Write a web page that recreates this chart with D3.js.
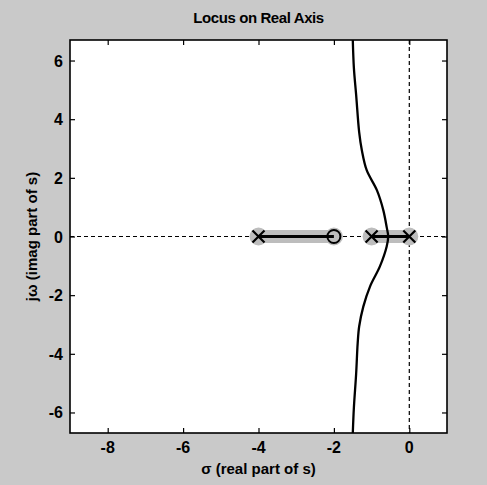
<!DOCTYPE html>
<html><head><meta charset="utf-8">
<script src="https://cdn.jsdelivr.net/npm/d3@7"></script>
<style>
html,body{margin:0;padding:0;background:#c9c9c9;}
svg{display:block;}
text{font-family:"Liberation Sans",Arial,sans-serif;font-weight:bold;fill:#000;}
</style></head>
<body>
<script>
// ---- data ----
const title = "Locus on Real Axis";
const xLabel = "\u03c3 (real part of s)";
const yLabel = "j\u03c9 (imag part of s)";
const xTicks = [-8, -6, -4, -2, 0];
const yTicks = [-6, -4, -2, 0, 2, 4, 6];
const poles = [0, -1, -4];
const zeros = [-2];
// real-axis locus segments [from, to]
const realSegments = [[-4, -2], [-1, 0]];
// complex branch (sigma, omega), top to bottom
const branchSigma = [-1.50, -1.47, -1.41, -1.33, -1.26, -1.13, -0.86, -0.69, -0.60, -0.56, -0.60, -0.78, -1.04, -1.22, -1.33, -1.37, -1.41, -1.47, -1.50];
const branchOmega = [6.75, 5.75, 4.83, 3.56, 2.95, 2.26, 1.58, 0.90, 0.32, 0.00, -0.34, -1.02, -1.70, -2.39, -3.07, -3.65, -4.68, -5.84, -6.75];

// ---- layout ----
const W = 487, H = 485;
const L = 70, R = 447, T = 40, B = 433;
const svg = d3.select("body").append("svg").attr("width", W).attr("height", H);
svg.append("rect").attr("width", W).attr("height", H).attr("fill", "#c9c9c9");

const x = d3.scaleLinear().domain([-9, 1]).range([L, R]);
const y = d3.scaleLinear().domain([-6.7, 6.7]).range([B, T]);

svg.append("defs").append("clipPath").attr("id", "clip")
  .append("rect").attr("x", L).attr("y", T).attr("width", R - L).attr("height", B - T);

svg.append("rect").attr("x", L).attr("y", T).attr("width", R - L).attr("height", B - T).attr("fill", "#fff");

const g = svg.append("g").attr("clip-path", "url(#clip)");

// dashed axes lines
g.append("line").attr("x1", L).attr("x2", R).attr("y1", y(0)).attr("y2", y(0))
  .attr("stroke", "#000").attr("stroke-width", 1.2).attr("stroke-dasharray", "4,3");
g.append("line").attr("x1", x(0)).attr("x2", x(0)).attr("y1", T).attr("y2", B)
  .attr("stroke", "#000").attr("stroke-width", 1.2).attr("stroke-dasharray", "4,3");

// grey halos
g.selectAll("line.halo").data(realSegments).enter().append("line")
  .attr("x1", d => x(d[0])).attr("x2", d => x(d[1]))
  .attr("y1", y(0)).attr("y2", y(0))
  .attr("stroke", "#bdbdbd").attr("stroke-width", 13).attr("stroke-linecap", "round");
g.selectAll("circle.halo").data(poles.concat(zeros)).enter().append("circle")
  .attr("cx", d => x(d)).attr("cy", y(0)).attr("r", 9).attr("fill", "#bdbdbd");

// real axis locus
g.selectAll("line.seg").data(realSegments).enter().append("line")
  .attr("x1", d => x(d[0])).attr("x2", d => x(d[1]))
  .attr("y1", y(0)).attr("y2", y(0))
  .attr("stroke", "#000").attr("stroke-width", 3);

// complex branch
const pts = branchSigma.map((s, i) => [s, branchOmega[i]]);
g.append("path").datum(pts)
  .attr("d", d3.line().x(d => x(d[0])).y(d => y(d[1])).curve(d3.curveCatmullRom))
  .attr("fill", "none").attr("stroke", "#000").attr("stroke-width", 2.3);

// poles (x)
const s = 6;
poles.forEach(p => {
  const cx = x(p), cy = y(0);
  g.append("path").attr("d", `M${cx - s},${cy - s}L${cx + s},${cy + s}M${cx - s},${cy + s}L${cx + s},${cy - s}`)
    .attr("stroke", "#000").attr("stroke-width", 2.2).attr("fill", "none");
});
// zeros (o)
g.selectAll("circle.zero").data(zeros).enter().append("circle")
  .attr("cx", d => x(d)).attr("cy", y(0)).attr("r", 6.5)
  .attr("fill", "none").attr("stroke", "#000").attr("stroke-width", 2);

// frame
svg.append("rect").attr("x", L).attr("y", T).attr("width", R - L).attr("height", B - T)
  .attr("fill", "none").attr("stroke", "#000").attr("stroke-width", 1.6);

// ticks (inside) using axes
const tl = 5;
svg.append("g").attr("transform", `translate(0,${B})`)
  .call(d3.axisBottom(x).tickValues(xTicks).tickSize(-tl).tickFormat(""))
  .call(a => a.select(".domain").remove());
svg.append("g").attr("transform", `translate(0,${T})`)
  .call(d3.axisTop(x).tickValues(xTicks).tickSize(-tl).tickFormat(""))
  .call(a => a.select(".domain").remove());
svg.append("g").attr("transform", `translate(${L},0)`)
  .call(d3.axisLeft(y).tickValues(yTicks).tickSize(-tl).tickFormat(""))
  .call(a => a.select(".domain").remove());
svg.append("g").attr("transform", `translate(${R},0)`)
  .call(d3.axisRight(y).tickValues(yTicks).tickSize(-tl).tickFormat(""))
  .call(a => a.select(".domain").remove());
svg.selectAll(".tick line").attr("stroke", "#000").attr("stroke-width", 1.2);

// tick labels
svg.selectAll("text.xt").data(xTicks).enter().append("text")
  .attr("x", d => x(d)).attr("y", B + 20).attr("text-anchor", "middle")
  .attr("font-size", 16).text(d => d);
svg.selectAll("text.yt").data(yTicks).enter().append("text")
  .attr("x", L - 7).attr("y", d => y(d) + 6).attr("text-anchor", "end")
  .attr("font-size", 16).text(d => d);

// titles
svg.append("text").attr("x", (L + R) / 2).attr("y", 23).attr("text-anchor", "middle")
  .attr("font-size", 15).attr("letter-spacing", -0.4).text(title);
svg.append("text").attr("x", (L + R) / 2).attr("y", 474).attr("text-anchor", "middle")
  .attr("font-size", 15).text(xLabel);
svg.append("text").attr("transform", `translate(37,${(T + B) / 2}) rotate(-90)`)
  .attr("text-anchor", "middle").attr("font-size", 15).text(yLabel);
</script>
</body></html>
